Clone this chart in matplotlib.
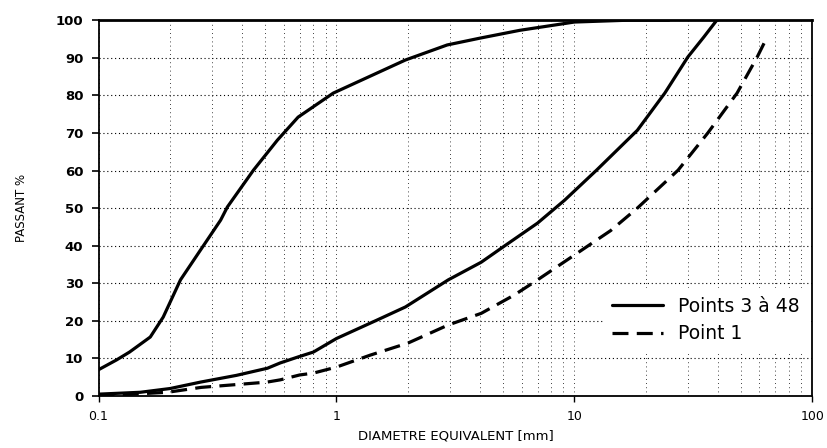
import matplotlib
matplotlib.use("Agg")
import matplotlib.pyplot as plt
from matplotlib.ticker import FixedLocator, NullFormatter, LogLocator

# Fine envelope (Points 3 a 48, left curve)
a_x = [0.1, 0.119, 0.135, 0.165, 0.187, 0.221, 0.268, 0.326, 0.348, 0.448, 0.565, 0.69,
       0.97, 1.95, 2.92, 4.0, 5.9, 10, 17, 25]
a_y = [7, 9.6, 11.7, 15.7, 21, 30.9, 38.8, 46.8, 50.3, 60.1, 68.1, 74.2,
       80.6, 89.4, 93.4, 95.2, 97.3, 99.5, 100, 100]

# Coarse envelope (Points 3 a 48, middle curve)
b_x = [0.1, 0.15, 0.2, 0.268, 0.38, 0.513, 0.58, 0.69, 0.8, 1.0, 1.48, 1.95, 2.95,
       4.06, 5.0, 7.0, 9.1, 12.4, 18.4, 24, 30.0, 35, 39.7]
b_y = [0.5, 1, 2, 3.7, 5.5, 7.4, 8.8, 10.4, 11.7, 15.3, 20.2, 23.7, 30.9,
       35.6, 39.6, 46, 52.1, 60.1, 70.7, 80.6, 90.2, 95.5, 100]

# Point 1 (dashed)
c_x = [0.1, 0.195, 0.27, 0.51, 0.58, 0.7, 0.8, 1.0, 1.39, 2.0, 2.95, 4.06, 5.6, 7.0,
       10, 14.2, 18.4, 27.3, 36.4, 48.3, 58.7, 64.6]
c_y = [0, 1, 2.3, 3.7, 4.3, 5.6, 6.1, 7.7, 10.9, 14.1, 18.9, 22, 26.9, 30.9,
       37.5, 44, 50, 60.1, 70, 80.6, 90.2, 95.5]

x_ticks = [0.1, 1, 10, 100]
x_tick_labels = ["0.1", "1", "10", "100"]
y_ticks = [0, 10, 20, 30, 40, 50, 60, 70, 80, 90, 100]

fig = plt.figure(figsize=(8.28, 4.48), dpi=100)
ax = fig.add_axes([0.119, 0.116, 0.862, 0.839])

ax.plot(a_x, a_y, color="black", lw=2.3, solid_capstyle="round")
l1, = ax.plot(b_x, b_y, color="black", lw=2.3, solid_capstyle="round",
              label="Points 3 \u00e0 48")
l2, = ax.plot(c_x, c_y, color="black", lw=2.3, dashes=(5, 2.6),
              label="Point 1")

ax.set_xscale("log")
ax.set_xlim(0.1, 100)
ax.set_ylim(0, 100)

ax.xaxis.set_major_locator(FixedLocator(x_ticks))
ax.set_xticklabels(x_tick_labels)
ax.xaxis.set_minor_locator(LogLocator(base=10, subs=range(2, 10)))
ax.xaxis.set_minor_formatter(NullFormatter())
ax.set_yticks(y_ticks)

ax.grid(True, which="both", axis="x", linestyle=(0, (1, 4)), color="black", lw=0.6)
ax.grid(True, which="major", axis="y", linestyle=(0, (1, 2.5)), color="black", lw=0.8)
ax.set_axisbelow(True)

ax.tick_params(axis="x", which="major", direction="out", length=4, width=1,
               labelsize=9, pad=6)
ax.tick_params(axis="x", which="minor", length=0)
ax.tick_params(axis="y", direction="out", length=5, width=1.2, labelsize=9.5, pad=6)
for lab in ax.get_yticklabels():
    lab.set_fontweight("bold")

for side in ["left", "bottom", "right"]:
    ax.spines[side].set_linewidth(1.3)
ax.spines["top"].set_linewidth(2.0)

ax.set_ylabel("PASSANT %", fontsize=8.5, labelpad=20)
ax.set_xlabel("DIAMETRE EQUIVALENT [mm]", fontsize=9.5, labelpad=5)

leg = ax.legend(handles=[l1, l2], loc="lower right",
                bbox_to_anchor=(1.0, 0.105), fontsize=13.5, frameon=True,
                fancybox=False, handlelength=2.7, handletextpad=0.8,
                borderpad=0.5, labelspacing=0.45, borderaxespad=0.2)
leg.get_frame().set_facecolor("white")
leg.get_frame().set_edgecolor("none")
leg.get_frame().set_alpha(1.0)

fig.savefig("out.png", dpi=100)
